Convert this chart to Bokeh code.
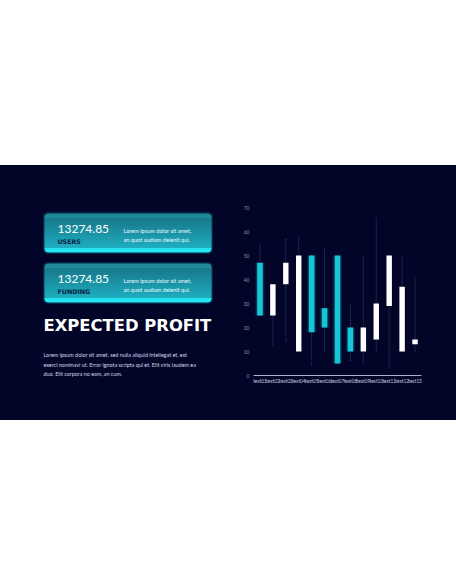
from bokeh.plotting import figure
from bokeh.models import Range1d, FixedTicker, FactorRange, Spacer
from bokeh.layouts import column, row
from bokeh.core.properties import value
from bokeh.embed import file_html
from bokeh.resources import INLINE

# ---------------- data ----------------
categories = ["text01", "text02", "text03", "text04", "text05", "text06", "text07",
              "text08", "text09", "text10", "text11", "text12", "text13"]
opens = [25, 38, 47, 50, 18, 20, 5, 10, 20, 30, 50, 37, 15]
closes = [47, 25, 38, 10, 50, 28, 50, 20, 10, 15, 29, 10, 13]
highs = [55, 38, 57, 58, 50, 53, 50, 30, 50, 66, 50, 50, 41]
lows = [25, 12, 14, 10, 4, 10, 5, 6, 5, 10, 3, 10, 10]
y_ticks = [0, 10, 20, 30, 40, 50, 60, 70]

stat_values = ["13274.85", "13274.85"]
stat_labels = ["USERS", "FUNDING"]
stat_note_1 = ["Lorem ipsum dolor sit amet,", "Lorem ipsum dolor sit amet,"]
stat_note_2 = ["an quot audiam delenit qui.", "an quot audiam delenit qui."]
title_text = "EXPECTED PROFIT"
body_lines = ["Lorem ipsum dolor sit amet, sed nulla aliquid intellegat et, est",
              "exerci nominavi ut. Error ignota scripta qui et. Elit viris laudem ea",
              "duo. Elit corpora no eam, an cum."]

# ---------------- style ----------------
NAVY = "#020528"
CYAN = "#17c6d6"
WHITE = "#ffffff"
FONT = "Lato"


def hex2rgb(h):
    h = h.lstrip("#")
    return tuple(int(h[i:i + 2], 16) for i in (0, 2, 4))


def mix(c1, c2, t):
    a, b = hex2rgb(c1), hex2rgb(c2)
    return "#%02x%02x%02x" % tuple(int(round(a[i] + (b[i] - a[i]) * t)) for i in range(3))


# ---------------- left panel (page pixel coordinates) ----------------
left = figure(width=240, height=255, x_range=Range1d(0, 240), y_range=Range1d(420, 165),
              output_backend="svg", toolbar_location=None, min_border=0, frame_align=False,
              x_axis_type=None, y_axis_type=None, styles={"background-color": NAVY},
              background_fill_color=NAVY, border_fill_color=NAVY, outline_line_color=None)
left.grid.visible = False

GRAD_TOP = "#1f8797"
GRAD_BOT = "#27e6f4"
box_left, box_right, box_h = 44, 211, 39
box_tops = [213, 263]
for bt in box_tops:
    # glow
    left.quad(left=box_left - 1.5, right=box_right + 1.5, top=bt - 1.5, bottom=bt + box_h + 1.5,
              fill_color=CYAN, fill_alpha=0.18, line_color=None, border_radius=5)
    n = box_h - 8
    ys = [bt + 4 + i for i in range(n)]
    cols = [mix(GRAD_TOP, GRAD_BOT, (i + 4) / box_h) for i in range(n)]
    left.quad(left=box_left, right=box_right, top=bt, bottom=bt + 4.5,
              fill_color=GRAD_TOP, line_color=None, border_radius=(4, 4, 0, 0))
    left.quad(left=box_left, right=box_right, top=bt + box_h - 4.5, bottom=bt + box_h,
              fill_color=GRAD_BOT, line_color=None, border_radius=(0, 0, 4, 4))
    left.quad(left=[box_left] * n, right=[box_right] * n, top=ys, bottom=[y + 1.05 for y in ys],
              fill_color=cols, line_color=None)

val_y = [bt + 15 for bt in box_tops]
lab_y = [bt + 28 for bt in box_tops]
left.text(x=[57, 57], y=val_y, text=stat_values, text_font=value(FONT), text_font_size="12px",
          text_color=WHITE, text_baseline="middle", text_align="left")
left.text(x=[57, 57], y=lab_y, text=stat_labels, text_font=value("DejaVu Sans"),
          text_font_size="6.3px", text_font_style="bold", text_color="#0a1f45",
          text_baseline="middle", text_align="left")
left.text(x=[123, 123], y=[bt + 16.5 for bt in box_tops], text=stat_note_1, text_font=value(FONT),
          text_font_size="5.6px", text_color="#eafcff", text_baseline="middle", text_align="left")
left.text(x=[123, 123], y=[bt + 25.5 for bt in box_tops], text=stat_note_2, text_font=value(FONT),
          text_font_size="5.6px", text_color="#eafcff", text_baseline="middle", text_align="left")

left.text(x=[43], y=[325], text=[title_text], text_font=value("DejaVu Sans"), text_font_size="16.4px",
          text_font_style="bold", text_color=WHITE, text_baseline="middle", text_align="left")
left.text(x=[43, 43, 43], y=[354.5, 364, 373.5], text=body_lines, text_font=value(FONT),
          text_font_size="5.4px", text_color="#d4d8e6", text_baseline="middle", text_align="left")

# ---------------- candlestick chart ----------------
chart = figure(width=216, height=255, x_range=FactorRange(factors=categories),
               y_range=Range1d(0, 70), output_backend="svg", toolbar_location=None,
               min_border_left=11, min_border_right=35, min_border_top=42, min_border_bottom=45,
               frame_align=False, styles={"background-color": NAVY},
               background_fill_color=NAVY, border_fill_color=NAVY, outline_line_color=None)
chart.grid.visible = False

body_top = [max(o, c) for o, c in zip(opens, closes)]
body_bot = [min(o, c) for o, c in zip(opens, closes)]
up = [c > o for o, c in zip(opens, closes)]
colors = [CYAN if u else WHITE for u in up]

chart.segment(x0=categories, y0=lows, x1=categories, y1=highs, line_color="#4f5c88",
              line_width=1, line_dash="1 1", line_alpha=0.7)

up_cats = [c for c, u in zip(categories, up) if u]
up_top = [t for t, u in zip(body_top, up) if u]
up_bot = [b for b, u in zip(body_bot, up) if u]
chart.vbar(x=up_cats, top=up_top, bottom=up_bot, width=0.75, fill_color=CYAN, fill_alpha=0.10,
           line_color=None)
chart.vbar(x=up_cats, top=up_top, bottom=up_bot, width=0.58, fill_color=CYAN, fill_alpha=0.22,
           line_color=None)
chart.vbar(x=categories, top=body_top, bottom=body_bot, width=0.42, fill_color=colors,
           line_color=None)

chart.yaxis.ticker = FixedTicker(ticks=y_ticks)
chart.yaxis.axis_line_color = None
chart.yaxis.major_tick_line_color = None
chart.yaxis.minor_tick_line_color = None
chart.yaxis.major_tick_out = 0
chart.yaxis.major_tick_in = 0
chart.yaxis.minor_tick_out = 0
chart.yaxis.major_label_standoff = 4
chart.yaxis.major_label_text_font_size = "5px"
chart.yaxis.major_label_text_font = FONT
chart.yaxis.major_label_text_color = "#8a90a8"

chart.xaxis.axis_line_color = "#a8b0cc"
chart.xaxis.axis_line_width = 1
chart.xaxis.major_tick_line_color = None
chart.xaxis.minor_tick_line_color = None
chart.xaxis.major_tick_out = 0
chart.xaxis.major_tick_in = 0
chart.xaxis.minor_tick_out = 0
chart.xaxis.major_label_standoff = 2
chart.xaxis.major_label_text_font_size = "4.7px"
chart.xaxis.major_label_text_font = FONT
chart.xaxis.major_label_text_color = "#c4cadf"

layout = column(Spacer(width=456, height=165), row(left, chart))

open("out.html", "w").write(file_html(layout, INLINE))
